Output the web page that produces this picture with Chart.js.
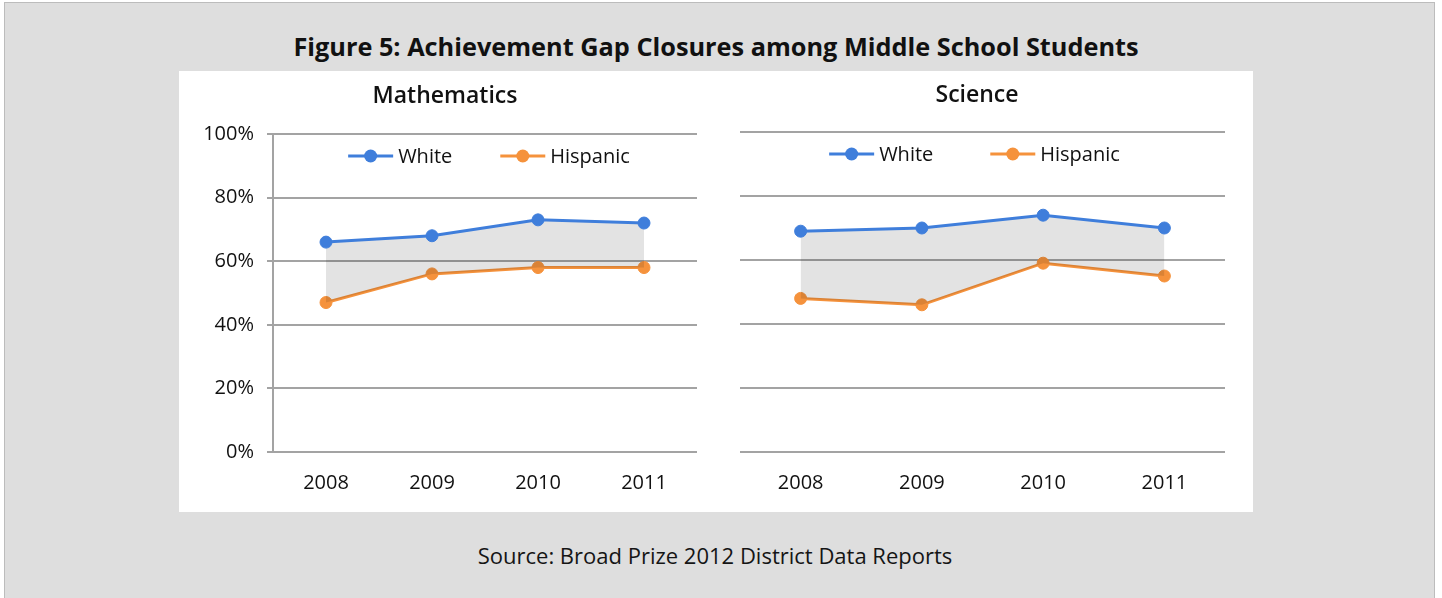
<!DOCTYPE html>
<html>
<head>
<meta charset="utf-8">
<script src="https://cdn.jsdelivr.net/npm/chart.js@4.4.1/dist/chart.umd.min.js"></script>
<style>
  html, body { margin: 0; padding: 0; background: #ffffff; }
  body { width: 1442px; height: 598px; position: relative; overflow: hidden; font-family: "Open Sans", sans-serif; }
  #frame { position: absolute; left: 4px; top: 2px; width: 1431px; height: 620px; background: #dedede; border: 1px solid #bcbcbc; box-sizing: border-box; }
  #title { position: absolute; left: 0; width: 1432px; top: 30px; text-align: center; font-weight: 700; font-size: 25.3px; color: #111; line-height: 32px; }
  #panel { position: absolute; left: 179px; top: 71px; width: 1074px; height: 441px; background: #ffffff; }
  .chartbox { position: absolute; top: 71px; width: 537px; height: 441px; }
  #source { position: absolute; left: 0; width: 1430px; top: 540px; text-align: center; font-size: 22px; color: #151515; line-height: 30px; }
</style>
</head>
<body>
<div id="frame"></div>
<div id="title">Figure 5: Achievement Gap Closures among Middle School Students</div>
<div id="panel"></div>
<div class="chartbox" style="left:179px"><canvas id="math" width="537" height="441"></canvas></div>
<div class="chartbox" style="left:716px"><canvas id="sci" width="537" height="441"></canvas></div>
<div id="source">Source: Broad Prize 2012 District Data Reports</div>
<script>
// ---- data ----
const years = ['2008', '2009', '2010', '2011'];
const seriesNames = ['White', 'Hispanic'];
const mathWhite = [66, 68, 73, 72];
const mathHispanic = [47, 56, 58, 58];
const sciWhite = [69, 70, 74, 70];
const sciHispanic = [48, 46, 59, 55];
const yTicks = [0, 20, 40, 60, 80, 100];
const panelTitles = ['Mathematics', 'Science'];

const BLUE = '#3f7edb';
const ORANGE = '#f5923c';
const GRID = '#a3a3a3';
const FONT = '"Open Sans"';

// legend drawn inside the plot area (line + marker + label)
const inAreaLegend = {
  id: 'inAreaLegend',
  afterDraw(chart, args, opts) {
    const ctx = chart.ctx;
    const area = chart.chartArea;
    const ds = chart.data.datasets;
    ctx.save();
    ctx.font = opts.fontSize + 'px ' + FONT;
    const lineLen = 45, gapText = 5, gapItem = opts.gap;
    const widths = ds.map(d => lineLen + gapText + ctx.measureText(d.label).width);
    const total = widths.reduce((a, b) => a + b, 0) + gapItem * (ds.length - 1);
    let x = (area.left + area.right) / 2 - total / 2 + opts.shift;
    const y = area.top + opts.offsetY;
    ds.forEach((d, i) => {
      ctx.strokeStyle = d.borderColor;
      ctx.lineWidth = 3;
      ctx.beginPath(); ctx.moveTo(x, y); ctx.lineTo(x + lineLen, y); ctx.stroke();
      ctx.fillStyle = d.borderColor;
      ctx.beginPath(); ctx.arc(x + lineLen / 2, y, 6.5, 0, Math.PI * 2); ctx.fill();
      ctx.fillStyle = '#111';
      ctx.textBaseline = 'middle';
      ctx.textAlign = 'left';
      ctx.fillText(d.label, x + lineLen + gapText, y + 1);
      x += widths[i] + gapItem;
    });
    ctx.restore();
  }
};

function makeChart(id, title, white, hisp, cfg) {
  return new Chart(document.getElementById(id), {
    type: 'line',
    data: {
      labels: years,
      datasets: [
        { label: seriesNames[0], data: white, borderColor: BLUE, backgroundColor: 'rgba(0,0,0,0.11)',
          pointBackgroundColor: BLUE, pointBorderColor: BLUE, pointRadius: 6, pointBorderWidth: 1,
          borderWidth: 3, fill: '+1', tension: 0 },
        { label: seriesNames[1], data: hisp, borderColor: ORANGE, backgroundColor: ORANGE,
          pointBackgroundColor: ORANGE, pointBorderColor: ORANGE, pointRadius: 6, pointBorderWidth: 1,
          borderWidth: 3, fill: false, tension: 0 }
      ]
    },
    options: {
      responsive: false,
      animation: false,
      events: [],
      layout: { padding: { left: cfg.padL, right: cfg.padR, top: 0, bottom: 0 } },
      plugins: {
        legend: { display: false },
        tooltip: { enabled: false },
        title: { display: true, text: title, color: '#111',
          font: { family: FONT, size: 23, weight: 600 },
          padding: { top: cfg.titleTop, bottom: cfg.titleBottom } },
        inAreaLegend: { fontSize: 20, gap: cfg.legendGap, offsetY: cfg.legendY, shift: cfg.legendShift }
      },
      scales: {
        x: {
          offset: true,
          grid: { display: false },
          border: { display: false },
          ticks: { color: '#111', font: { family: FONT, size: 20 }, padding: 11 },
          afterFit: s => { s.height = 60; }
        },
        y: {
          min: 0, max: 100,
          afterBuildTicks: s => { s.ticks = yTicks.map(v => ({ value: v })); },
          grid: { color: GRID, lineWidth: 2, drawTicks: cfg.showTicks, tickLength: 6 },
          border: { display: cfg.showTicks, color: GRID, width: 2 },
          ticks: { display: cfg.showTicks, color: '#111', font: { family: FONT, size: 20 }, padding: 13,
            callback: v => v + '%' },
          afterFit: s => { s.width = cfg.yWidth; }
        }
      }
    },
    plugins: [inAreaLegend]
  });
}

makeChart('math', panelTitles[0], mathWhite, mathHispanic,
  { padL: 14, padR: 19, yWidth: 80, titleTop: 12, titleBottom: 23.4, showTicks: true, legendGap: 48, legendY: 22, legendShift: 4 });
makeChart('sci', panelTitles[1], sciWhite, sciHispanic,
  { padL: 13, padR: 28, yWidth: 11, titleTop: 11, titleBottom: 22.4, showTicks: false, legendGap: 57, legendY: 22, legendShift: -8 });
</script>
</body>
</html>
